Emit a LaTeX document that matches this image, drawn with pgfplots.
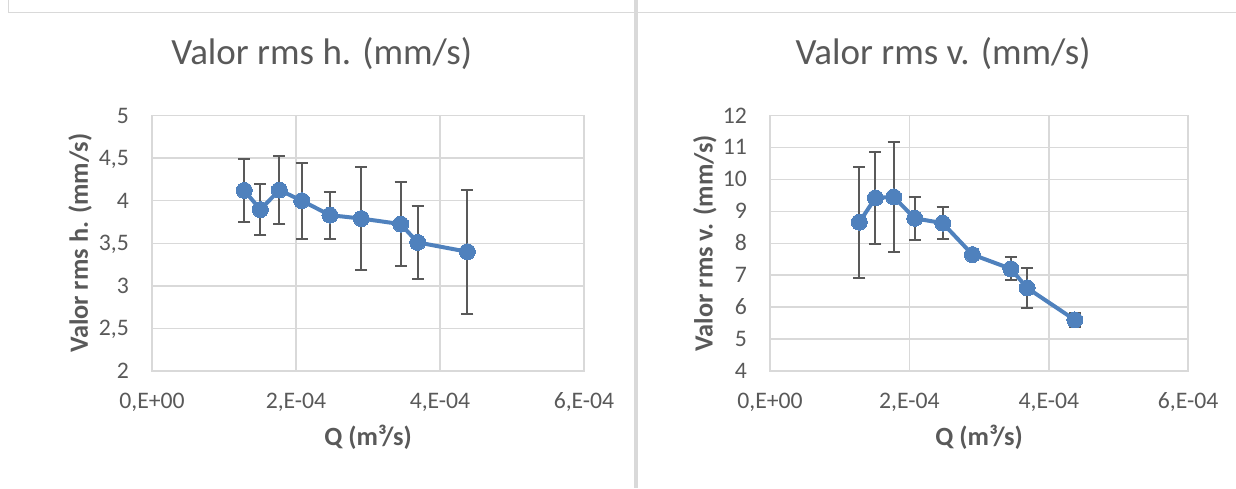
\documentclass[border=0pt]{standalone}
\usepackage{pgfplots}
\pgfplotsset{compat=1.18}
\usepackage{fontspec}
\setmainfont{Carlito}

\definecolor{txt}{HTML}{595959}
\definecolor{grd}{HTML}{D9D9D9}
\definecolor{ser}{HTML}{4F81BD}

\pgfplotsset{
  rms/.style={
    scale only axis, anchor=south west,
    height=255.5pt,
    xmin=0, xmax=6e-4,
    xtick={0,2e-4,4e-4,6e-4},
    xticklabels={{0,E+00},{2,E-04},{4,E-04},{6,E-04}},
    scaled x ticks=false, scaled y ticks=false,
    xmajorgrids, ymajorgrids,
    grid style={grd, line width=1.5pt},
    axis line style={grd, line width=1.5pt},
    major tick length=0pt,
    tick label style={font=\fontsize{23.7}{28}\selectfont, text=txt, inner sep=0pt},
    xticklabel style={anchor=base, yshift=-37pt},
    yticklabel style={anchor=base east, xshift=-23pt, yshift=-7.5pt},
    label style={font=\fontsize{26.3}{31}\selectfont\bfseries, text=txt},
    xlabel={Q (m³/s)},
    xlabel style={at={(axis description cs:0.5,0)}, anchor=center, yshift=-66pt},
  },
  serie/.style={
    ser, line width=4pt, mark=*, mark size=8pt,
    mark options={solid, fill=ser, draw=ser, line width=0pt},
    error bars/.cd, y dir=both, y explicit,
    error bar style={txt, line width=2pt},
    error mark options={txt, line width=2pt, mark size=6pt, rotate=90},
  },
}

\begin{document}
\begin{tikzpicture}
\path[use as bounding box] (0pt,0pt) rectangle (1236pt,488pt);
% chart frames
\draw[grd, line width=1.5pt] (8.5pt,488pt) -- (8.5pt,475.5pt) -- (634pt,475.5pt);
\draw[grd, line width=1.5pt] (637pt,475.5pt) -- (1236pt,475.5pt);
\draw[grd, line width=4pt] (635.7pt,488pt) -- (635.7pt,0pt);

\node[font=\fontsize{37}{44}\selectfont, text=txt, anchor=base] at (321.7pt,423pt) {Valor rms h. (mm/s)};
\node[font=\fontsize{37}{44}\selectfont, text=txt, anchor=base] at (943pt,423pt) {Valor rms v. (mm/s)};

\begin{axis}[rms, at={(152pt,117pt)}, width=432pt,
  ymin=2, ymax=5, ytick={2,2.5,3,3.5,4,4.5,5},
  yticklabels={2,{2,5},3,{3,5},4,{4,5},5},
  ylabel={Valor rms h. (mm/s)},
  ylabel style={at={(axis description cs:-0.1667,0.5)}, anchor=center}]
\addplot[serie] coordinates {
  (1.282e-4,4.120) +- (0,0.373)
  (1.505e-4,3.895) +- (0,0.300)
  (1.769e-4,4.125) +- (0,0.400)
  (2.079e-4,4.000) +- (0,0.445)
  (2.472e-4,3.830) +- (0,0.275)
  (2.907e-4,3.790) +- (0,0.605)
  (3.454e-4,3.725) +- (0,0.497)
  (3.690e-4,3.510) +- (0,0.424)
  (4.380e-4,3.400) +- (0,0.727)
};
\end{axis}

\begin{axis}[rms, at={(770pt,117pt)}, width=418.2pt,
  ymin=4, ymax=12, ytick={4,5,...,12},
  yticklabels={4,5,6,7,8,9,10,11,12},
  ylabel={Valor rms v. (mm/s)},
  ylabel style={at={(axis description cs:-0.1555,0.5)}, anchor=center}]
\addplot[serie] coordinates {
  (1.282e-4,8.660) +- (0,1.735)
  (1.512e-4,9.420) +- (0,1.430)
  (1.775e-4,9.450) +- (0,1.720)
  (2.077e-4,8.780) +- (0,0.672)
  (2.478e-4,8.630) +- (0,0.505)
  (2.904e-4,7.646) +- (0,0.050)
  (3.455e-4,7.200) +- (0,0.354)
  (3.689e-4,6.600) +- (0,0.615)
  (4.373e-4,5.600) +- (0,0.224)
};
\end{axis}
\end{tikzpicture}
\end{document}
